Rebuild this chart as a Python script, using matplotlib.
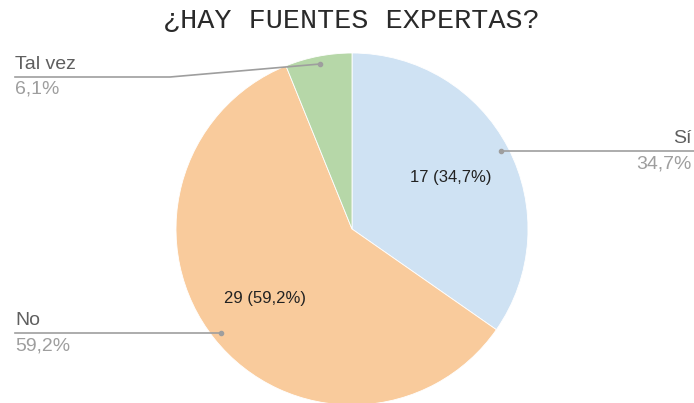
import numpy as np
import matplotlib.pyplot as plt

# respuestas
labels = ['Sí', 'No', 'Tal vez']
counts = [17, 29, 3]
pct_labels = ['34,7%', '59,2%', '6,1%']
inner_labels = ['17 (34,7%)', '29 (59,2%)', '']
colors = ['#cfe2f3', '#f9cb9c', '#b6d7a8']

W, H = 694, 403
fig = plt.figure(figsize=(W / 100, H / 100), dpi=100)

# pie centre and radius in pixels (from top-left)
cx, cy, R = 352, 229, 176
ax = fig.add_axes([(cx - R) / W, (H - cy - R) / H, 2 * R / W, 2 * R / H])
wedges, _ = ax.pie(counts, colors=colors, startangle=90, counterclock=False,
                   radius=1, wedgeprops=dict(edgecolor='white', linewidth=0.6))
for w in wedges:
    w.set_clip_on(False)
ax.set_xlim(-1, 1)
ax.set_ylim(-1, 1)
ax.set_aspect('equal')
ax.axis('off')

# overlay in pixel coordinates for labels and leader lines
ov = fig.add_axes([0, 0, 1, 1], facecolor='none')
ov.set_xlim(0, W)
ov.set_ylim(H, 0)
ov.axis('off')

def mid_point(w, r):
    a = np.deg2rad((w.theta1 + w.theta2) / 2)
    return cx + r * R * np.cos(a), cy - r * R * np.sin(a)

# inner value labels
for w, txt in zip(wedges, inner_labels):
    if txt:
        x, y = mid_point(w, 0.63)
        ov.text(x, y, txt, ha='center', va='center', fontsize=12,
                color='#222222', family='Liberation Sans')

line_c = '#9e9e9e'
lab_c = '#5f5f5f'
pct_c = '#9e9e9e'
lab_font = dict(fontsize=14, family='Liberation Sans')

# Sí: to the right edge
x, y = mid_point(wedges[0], 0.955)
ov.plot([x, W], [y, y], color=line_c, lw=1.2)
ov.plot(x, y, 'o', ms=3, color=line_c)
ov.text(692, y - 4, labels[0], ha='right', va='bottom', color=lab_c, **lab_font)
ov.text(692, y + 4, pct_labels[0], ha='right', va='top', color=pct_c, **lab_font)

# No: to the left edge
x, y = mid_point(wedges[1], 0.95)
ov.plot([15, x], [y, y], color=line_c, lw=1.2)
ov.plot(x, y, 'o', ms=3, color=line_c)
ov.text(15, y - 4, labels[1], ha='left', va='bottom', color=lab_c, **lab_font)
ov.text(15, y + 4, pct_labels[1], ha='left', va='top', color=pct_c, **lab_font)

# Tal vez: bent leader to the upper left
x, y = mid_point(wedges[2], 0.955)
ly = 77
ov.plot([15, 170, x], [ly, ly, y], color=line_c, lw=1.2)
ov.plot(x, y, 'o', ms=3, color=line_c)
ov.text(15, ly - 4, labels[2], ha='left', va='bottom', color=lab_c, **lab_font)
ov.text(15, ly + 4, pct_labels[2], ha='left', va='top', color=pct_c, **lab_font)

ov.text(351, 21, '¿HAY FUENTES EXPERTAS?', ha='center', va='center',
        fontsize=20.5, family=['Liberation Mono', 'DejaVu Sans Mono'],
        color='#2a2a2a')

fig.savefig('out.png', dpi=100, facecolor='white')
